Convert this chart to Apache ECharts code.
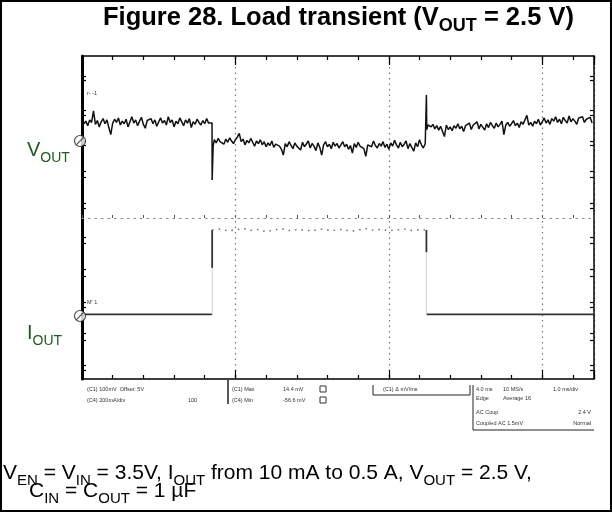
<!DOCTYPE html>
<html><head><meta charset="utf-8">
<script src="https://cdn.jsdelivr.net/npm/echarts@6/dist/echarts.min.js"></script>
<style>html,body{margin:0;padding:0;background:#fff}#c{width:612px;height:512px}</style>
</head><body><div id="c"></div>
<script>
// ---------------- data ----------------
// time axis in microseconds, VOUT in mV (AC, relative to ground marker), IOUT in A
const sampleStep = 0.25;
const timeMax = 66.75;

const voutPreStart = 0.25;
const voutPre = [27,31,24,33,29,47,26,32,22,30,35,27,33,21,10,28,34,29,36,25,31,27,34,22,30,38,28,33,24,31,37,26,20,32,29,35,27,33,23,30,36,28,32,25,38,29,33,22,31,27,36,30,24,33,28,35,21,30,26,34,29,25,32,27,35,28,31];

const voutDropEdgeT = [16.95, 16.97, 17.1];
const voutDropEdgeV = [28, -61, -8];

const voutMidStart = 17.25;
const voutMid = [2,-3,4,
  -1,1,-5,3, -2,5,0,-4, 2,6,12,-1, 3,-6,1,-3, 4,-2,-8,0, -4,2,-6,-1, -9,-3,-7,0,
  -10,-5,-2,-8, -13,-22,-4,-9, -1,-7,-12,-3, -8,-5,-14,-2, -9,-6,0,-11, -4,-8,-15,-3,
  -10,-22,-6,-1, -9,-5,-12,-2, -8,-4,-11,-6, -1,-9,-5,-13, -7,-19,-4,-10, -2,-8,-5,-12,
  -24,-6,-3,-9, 0,-7,-11,-4, -8,-1,-10,-5, -13,-3,-8,1, -6,-11,-2,-9, -5,0,-12,-4,
  -7,-16,-3,-9, 2,-6,-11,-4];

const voutRiseEdgeT = [44.85, 44.9, 44.95, 45.1];
const voutRiseEdgeV = [-5, 72, 18, 25];

const voutPostStart = 45.25;
const voutPost = [28,22,26,
  19,24,17,23, 21,7,25,18, 22,16,24,20, 27,19,23,15, 24,21,28,18,
  25,22,30,19, 26,23,17,27, 21,29,24,20, 28,22,26,31, 10,25,29,23,
  27,32,24,28, 21,30,26,33, 40,25,29,23, 31,27,34,25, 30,36,28,33,
  26,35,31,38, 29,34,27,37, 32,28,39,30, 35,31,26,36, 33,38,29,34,
  31,37,28];

const ioutLowBeforeT = [0.25, 16.97];
const ioutLowBeforeV = [0.01, 0.01];
const ioutStepUpT = 16.97;
const ioutHighStart = 17;
const ioutHighStep = 1;
const ioutHigh = [0.5,0.505,0.495,0.5,0.51,0.498,0.503,0.49,0.5,0.507,0.497,0.502,0.5,0.494,0.506,0.5,0.498,0.504,0.492,0.5,0.508,0.499,0.503,0.496,0.5,0.505,0.497,0.501];
const ioutStepDownT = 44.9;
const ioutLowAfterT = [44.95, 66.75];
const ioutLowAfterV = [0.01, 0.01];
const ioutLevels = { low: 0.01, high: 0.5, upVisible: 0.28, downVisible: 0.37 };

// tick positions (mV on the VOUT scale) of the graticule marks on the side borders
const sideTicks = [101.6,95.3,48.4,40.6,0,-6,-48,-56,-98,-105,-150,-159,-201,-212,-252,-259,-300,-311,-350,-358];

// ---------------- scales ----------------
const voutMin = -371.875, voutMax = 132.8125;
const ioutMin = -0.3663, ioutMax = 1.5116;

function seg(start, step, vals) { return vals.map((v, i) => [start + i * step, v]); }
function pairs(ts, vs) { return ts.map((t, i) => [t, vs[i]]); }

const voutData = [].concat(
  seg(voutPreStart, sampleStep, voutPre),
  pairs(voutDropEdgeT, voutDropEdgeV),
  seg(voutMidStart, sampleStep, voutMid),
  pairs(voutRiseEdgeT, voutRiseEdgeV),
  seg(voutPostStart, sampleStep, voutPost)
);
const ioutHighData = [].concat([[ioutStepUpT, ioutLevels.high]], seg(ioutHighStart, ioutHighStep, ioutHigh), [[ioutStepDownT, ioutLevels.high]]);

// ---------------- text helpers ----------------
const mctx = document.createElement('canvas').getContext('2d');
const FAM = '"Liberation Sans", Arial, sans-serif';
function run(x, baseline, parts, color) {
  const els = [];
  let cx = x;
  parts.forEach(p => {
    const font = (p.b ? 'bold ' : '') + p.s + 'px ' + FAM;
    mctx.font = font;
    const w = mctx.measureText(p.t).width;
    const bl = baseline + (p.dy || 0);
    els.push({ type: 'text', x: cx, y: bl - 0.35 * p.s, silent: true,
      style: { text: p.t, font: font, fill: color, align: 'left', verticalAlign: 'middle' } });
    cx += w;
  });
  return els;
}
function small(x, y, t, align) {
  return { type: 'text', x: x, y: y, silent: true,
    style: { text: t, font: '5.5px ' + FAM, fill: '#333', align: align || 'left', verticalAlign: 'middle' } };
}
function line(x1, y1, x2, y2, w, c) {
  return { type: 'line', silent: true, shape: { x1, y1, x2, y2 }, style: { stroke: c || '#222', lineWidth: w || 1 } };
}
function box(x, y, w, h) {
  return { type: 'rect', silent: true, shape: { x, y, width: w, height: h }, style: { fill: '#fff', stroke: '#333', lineWidth: 1 } };
}

const green = '#1e5b1e';
let graphics = [
  { type: 'rect', silent: true, shape: { x: 1, y: 1, width: 610, height: 510 }, style: { fill: 'none', stroke: '#000', lineWidth: 2 } }
];
graphics = graphics.concat(
  run(103, 27, [{ t: 'Figure 28. Load transient (V', s: 25.5, b: 1 }, { t: 'OUT', s: 18, b: 1, dy: 5 }, { t: ' = 2.5 V)', s: 25.5, b: 1 }], '#000'),
  run(27, 157, [{ t: 'V', s: 20 }, { t: 'OUT', s: 14, dy: 6 }], green),
  run(27, 340, [{ t: 'I', s: 20 }, { t: 'OUT', s: 14, dy: 6 }], green),
  run(3, 481, [{ t: 'V', s: 21 }, { t: 'EN', s: 15, dy: 5 }, { t: ' = V', s: 21 }, { t: 'IN', s: 15, dy: 5 },
    { t: ' = 3.5V, I', s: 21 }, { t: 'OUT', s: 15, dy: 5 }, { t: ' from 10 mA to 0.5 A, V', s: 21 },
    { t: 'OUT', s: 15, dy: 5 }, { t: ' = 2.5 V,', s: 21 }], '#000'),
  run(29, 499, [{ t: 'C', s: 21 }, { t: 'IN', s: 15, dy: 5 }, { t: ' = C', s: 21 }, { t: 'OUT', s: 15, dy: 5 }, { t: ' = 1 µF', s: 21 }], '#000'),
  [
    small(87, 93, 'r- -1'), small(87, 302, "M' 1"),
    small(87, 389, '(C1) 100mV  Offset: 5V'), small(87, 400, '(C4) 200mA/div'), small(188, 400, '100'),
    line(228, 380, 228, 404, 1.5),
    small(232, 389, '(C1) Max'), small(283, 389, '14.4 mV'), box(320, 386, 6, 6),
    small(232, 400, '(C4) Min'), small(283, 400, '-56.6 mV'), box(320, 397, 6, 6),
    line(373, 385, 373, 395, 1), line(373, 395, 470, 395, 1), line(470, 385, 470, 395, 1),
    small(383, 389, '(C1) Δ mV/ms'),
    line(473, 385, 473, 430, 1), line(473, 430, 594, 430, 1),
    small(476, 389, '4.0 ms'), small(503, 389, '10 MS/s'), small(553, 389, '1.0 ms/div'),
    small(476, 398, 'Edge'), small(503, 398, 'Average 16'),
    small(476, 412, 'AC Coup'), small(591, 412, '2.4 V', 'right'),
    small(476, 423, 'Coupled AC 1.5mV'), small(591, 423, 'Normal', 'right')
  ]
);

// ---------------- chart ----------------
const noLabel = { show: false };
function xAx(pos, interval, tickLen, extra) {
  return Object.assign({
    type: 'value', min: 0, max: timeMax, interval: interval, position: pos,
    axisLine: { onZero: false, lineStyle: { color: '#000', width: 1.5 } },
    axisTick: { inside: true, length: tickLen, lineStyle: { color: '#000', width: 1.2 } },
    axisLabel: noLabel, splitLine: { show: false }
  }, extra || {});
}
const markerPath = 'path://M2,12A10,10,0,1,1,22,12A10,10,0,1,1,2,12Z M5,19L19,5';

const option = {
  animation: false,
  backgroundColor: '#fff',
  grid: { left: 82, top: 56, width: 512, height: 323 },
  xAxis: [
    xAx('bottom', 4, 4),
    xAx('bottom', 20, 9, { axisLine: { show: false, onZero: false },
      splitLine: { show: true, lineStyle: { color: '#777', width: 1.2, type: [1.5, 4] } } }),
    xAx('top', 4, 4),
    xAx('top', 20, 9, { axisLine: { show: false, onZero: false } }),
    xAx('bottom', 4, 3, { offset: -161,
      axisLine: { onZero: false, lineStyle: { color: '#888', width: 1.2, type: [1.5, 5] } },
      axisTick: { inside: true, length: 3, lineStyle: { color: '#555', width: 1 } } })
  ],
  yAxis: [
    { type: 'value', min: voutMin, max: voutMax, position: 'left',
      axisLine: { onZero: false, lineStyle: { color: '#000', width: 3 } },
      axisTick: { inside: true, length: 4, customValues: sideTicks, lineStyle: { color: '#000', width: 1.2 } },
      axisLabel: noLabel, splitLine: { show: false } },
    { type: 'value', min: ioutMin, max: ioutMax, position: 'right', show: false,
      axisLine: { onZero: false }, splitLine: { show: false } },
    { type: 'value', min: voutMin, max: voutMax, position: 'right',
      axisLine: { onZero: false, lineStyle: { color: '#000', width: 1.5 } },
      axisTick: { inside: true, length: 4, customValues: sideTicks, lineStyle: { color: '#000', width: 1.2 } },
      axisLabel: noLabel, splitLine: { show: false } }
  ],
  series: [
    { name: 'VOUT', type: 'line', xAxisIndex: 0, yAxisIndex: 0, data: voutData, showSymbol: false,
      lineStyle: { color: '#111', width: 1.5 }, z: 5 },
    { name: 'IOUT low 1', type: 'line', xAxisIndex: 0, yAxisIndex: 1, data: pairs(ioutLowBeforeT, ioutLowBeforeV),
      showSymbol: false, lineStyle: { color: '#333', width: 1.8 } },
    { name: 'IOUT up light', type: 'line', xAxisIndex: 0, yAxisIndex: 1,
      data: [[ioutStepUpT, ioutLevels.low], [ioutStepUpT, ioutLevels.upVisible]],
      showSymbol: false, lineStyle: { color: '#cfcfcf', width: 1 } },
    { name: 'IOUT up', type: 'line', xAxisIndex: 0, yAxisIndex: 1,
      data: [[ioutStepUpT, ioutLevels.upVisible], [ioutStepUpT, ioutLevels.high]],
      showSymbol: false, lineStyle: { color: '#333', width: 1.8 } },
    { name: 'IOUT high', type: 'line', xAxisIndex: 0, yAxisIndex: 1, data: ioutHighData,
      showSymbol: false, lineStyle: { color: '#666', width: 1.4, type: [1.5, 5] } },
    { name: 'IOUT down', type: 'line', xAxisIndex: 0, yAxisIndex: 1,
      data: [[ioutStepDownT, ioutLevels.high], [ioutStepDownT, ioutLevels.downVisible]],
      showSymbol: false, lineStyle: { color: '#333', width: 1.8 } },
    { name: 'IOUT down light', type: 'line', xAxisIndex: 0, yAxisIndex: 1,
      data: [[ioutStepDownT, ioutLevels.downVisible], [ioutStepDownT, ioutLevels.low]],
      showSymbol: false, lineStyle: { color: '#cfcfcf', width: 1 } },
    { name: 'IOUT low 2', type: 'line', xAxisIndex: 0, yAxisIndex: 1, data: pairs(ioutLowAfterT, ioutLowAfterV),
      showSymbol: false, lineStyle: { color: '#333', width: 1.8 } },
    { name: 'VOUT ref', type: 'scatter', xAxisIndex: 0, yAxisIndex: 0, data: [[0, 0]], clip: false,
      symbol: markerPath, symbolSize: 11, symbolOffset: [-2, 0],
      itemStyle: { color: '#fff', borderColor: '#222', borderWidth: 1.2 }, z: 10 },
    { name: 'IOUT ref', type: 'scatter', xAxisIndex: 0, yAxisIndex: 1, data: [[0, 0]], clip: false,
      symbol: markerPath, symbolSize: 11, symbolOffset: [-2, 0],
      itemStyle: { color: '#fff', borderColor: '#222', borderWidth: 1.2 }, z: 10 }
  ],
  graphic: graphics
};

const chart = echarts.init(document.getElementById('c'), null, { renderer: 'canvas' });
chart.setOption(option);
</script>
</body></html>
